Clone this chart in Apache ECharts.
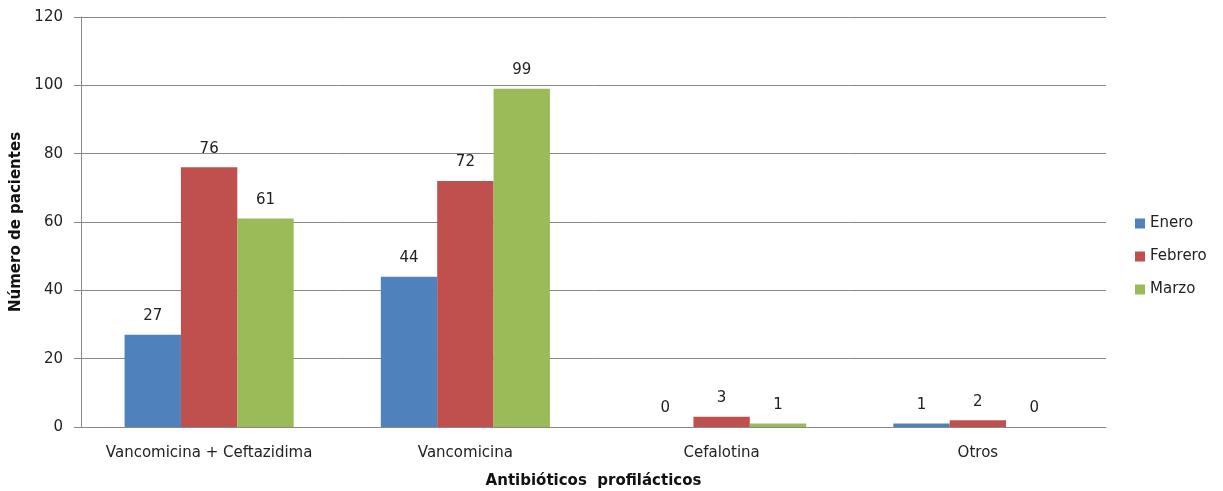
<!DOCTYPE html>
<html>
<head>
<meta charset="utf-8">
<script src="https://cdn.jsdelivr.net/npm/echarts@6/dist/echarts.min.js"></script>
<style>
  html, body { margin: 0; padding: 0; background: #fff; }
  #chart { width: 1223px; height: 491px; }
</style>
</head>
<body>
<div id="chart"></div>
<script>
// Antibióticos profilácticos por mes
const categories = ['Vancomicina + Ceftazidima', 'Vancomicina', 'Cefalotina', 'Otros'];
const enero = [27, 44, 0, 1];
const febrero = [76, 72, 3, 2];
const marzo = [61, 99, 1, 0];
const seriesNames = ['Enero', 'Febrero', 'Marzo'];
const colors = ['#4F81BD', '#C0504D', '#9BBB59'];

const font = '"DejaVu Sans", sans-serif';
const chart = echarts.init(document.getElementById('chart'));

const mkSeries = (name, data, color) => ({
  name, type: 'bar', data,
  barGap: '0%', barCategoryGap: '34%',
  itemStyle: { color },
  label: {
    show: true, position: 'top', distance: 11,
    color: '#222', fontSize: 15, fontFamily: font
  }
});

chart.setOption({
  animation: false,
  textStyle: { fontFamily: font },
  grid: {
    left: 81, right: 117, top: 17, bottom: 64,
    containLabel: false, outerBoundsMode: 'none'
  },
  legend: {
    orient: 'vertical', left: 1130, top: 211,
    icon: 'rect', itemWidth: 10, itemHeight: 10, itemGap: 18,
    textStyle: { fontSize: 15, color: '#222', fontFamily: font },
    data: seriesNames
  },
  xAxis: {
    type: 'category', data: categories,
    name: 'Antibióticos  profilácticos', nameLocation: 'middle', nameGap: 47,
    nameTextStyle: { fontSize: 15, fontWeight: 'bold', color: '#111', fontFamily: font },
    axisLine: { lineStyle: { color: '#888', width: 1 } },
    axisTick: { show: false },
    axisLabel: { fontSize: 15, color: '#222', margin: 19, interval: 0, fontFamily: font }
  },
  yAxis: {
    type: 'value', min: 0, max: 120, interval: 20,
    name: 'Número de pacientes', nameLocation: 'middle', nameGap: 48,
    nameTextStyle: { fontSize: 15, fontWeight: 'bold', color: '#111', fontFamily: font },
    axisLine: { show: true, lineStyle: { color: '#888', width: 1 } },
    axisTick: { show: true, length: 7, lineStyle: { color: '#888' } },
    axisLabel: { fontSize: 15, color: '#222', margin: 18, fontFamily: font },
    splitLine: { lineStyle: { color: '#888', width: 1 } }
  },
  series: [
    mkSeries(seriesNames[0], enero, colors[0]),
    mkSeries(seriesNames[1], febrero, colors[1]),
    mkSeries(seriesNames[2], marzo, colors[2])
  ]
});
</script>
</body>
</html>
